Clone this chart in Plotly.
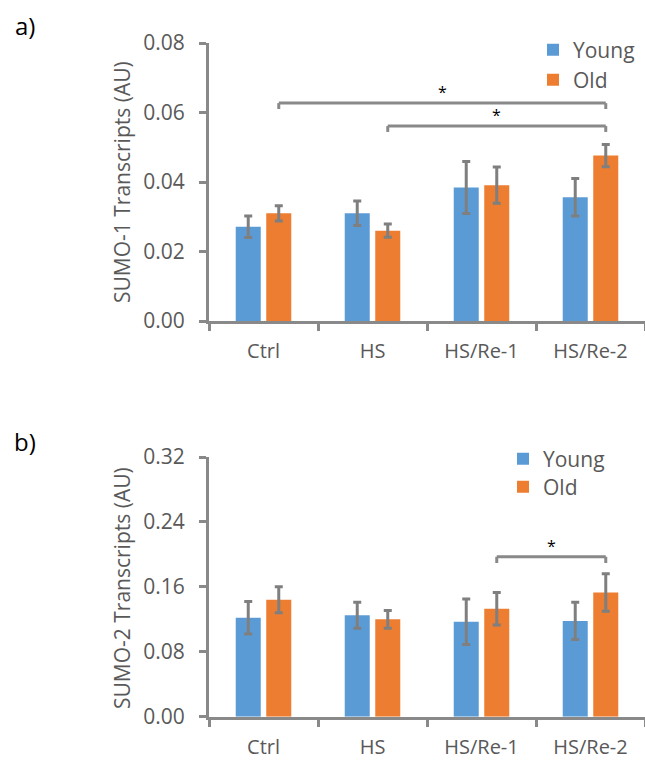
import plotly.graph_objects as go

categories = ["Ctrl", "HS", "HS/Re-1", "HS/Re-2"]

# Panel a) SUMO-1
sumo1_young = [0.0271, 0.0310, 0.0384, 0.0356]
sumo1_young_err = [0.0031, 0.0035, 0.0075, 0.0054]
sumo1_old = [0.0310, 0.0260, 0.0391, 0.0476]
sumo1_old_err = [0.0022, 0.0019, 0.0052, 0.0032]

# Panel b) SUMO-2
sumo2_young = [0.122, 0.125, 0.117, 0.118]
sumo2_young_err = [0.020, 0.016, 0.028, 0.023]
sumo2_old = [0.144, 0.120, 0.133, 0.153]
sumo2_old_err = [0.016, 0.011, 0.020, 0.023]

# significance brackets: (from category, to category, height)
brackets_a = [("Ctrl", "HS/Re-2", 0.0627), ("HS", "HS/Re-2", 0.0561)]
brackets_b = [("HS/Re-1", "HS/Re-2", 0.197)]

BLUE = "#5B9BD5"
ORANGE = "#ED7D31"
GREY = "#898989"
TXT = "#595959"
FONT = "Open Sans"

W, H = 645, 761
ML = 209
BARGAP = 0.44

fig = go.Figure()

def add_bars(y_young, e_young, y_old, e_old, xa, ya, legs):
    for name, vals, errs, col, leg in [("Young", y_young, e_young, BLUE, legs[0]),
                                       ("Old", y_old, e_old, ORANGE, legs[1])]:
        fig.add_trace(go.Bar(
            x=categories, y=vals, name=name, marker_color=col,
            marker_line_width=0,
            error_y=dict(type="data", array=errs, visible=True,
                         color="#7f7f7f", thickness=3, width=4),
            xaxis=xa, yaxis=ya, legend=leg, showlegend=True,
        ))

add_bars(sumo1_young, sumo1_young_err, sumo1_old, sumo1_old_err, "x", "y", ["legend", "legend2"])
add_bars(sumo2_young, sumo2_young_err, sumo2_old, sumo2_old_err, "x2", "y2", ["legend3", "legend4"])

top_dom = [(H - 321) / H, (H - 43) / H]
bot_dom = [(H - 716.7) / H, (H - 457) / H]

xcommon = dict(type="category", showline=True, linecolor=GREY, linewidth=3,
               ticks="outside", tickson="boundaries", ticklen=7, tickwidth=3,
               tickcolor=GREY, showgrid=False, zeroline=False, automargin=False,
               tickfont=dict(family=FONT, size=20, color=TXT),
               ticklabelstandoff=10, range=[-0.5, 3.5])
ycommon = dict(showline=True, linecolor=GREY, linewidth=3, ticks="outside",
               ticklen=7, tickwidth=3, tickcolor=GREY, showgrid=False,
               zeroline=False, automargin=False,
               tickfont=dict(family=FONT, size=21, color=TXT),
               tickformat=".2f", ticklabelstandoff=10)

fig.update_layout(
    width=W, height=H,
    margin=dict(l=ML, r=0, t=0, b=0, autoexpand=False),
    paper_bgcolor="white", plot_bgcolor="white",
    barmode="group", bargap=BARGAP, bargroupgap=0.18,
    xaxis=dict(domain=[0, 1], anchor="y", **xcommon),
    yaxis=dict(domain=top_dom, anchor="x", range=[0, 0.08], dtick=0.02, **ycommon),
    xaxis2=dict(domain=[0, 1], anchor="y2", **xcommon),
    yaxis2=dict(domain=bot_dom, anchor="x2", range=[0, 0.32], dtick=0.08, **ycommon),
)

PW = W - ML
def legend_cfg(xpix, ypix):
    return dict(x=xpix / W, y=1 - ypix / H, xref="container", yref="container",
                xanchor="left", yanchor="middle",
                bgcolor="rgba(0,0,0,0)", borderwidth=0,
                font=dict(family=FONT, size=21, color=TXT), itemwidth=30)

fig.update_layout(
    legend=legend_cfg(533, 50),
    legend2=legend_cfg(533, 80),
    legend3=legend_cfg(503, 459),
    legend4=legend_cfg(503, 487),
)

# brackets
off = (1 - BARGAP) / 4  # offset of Old bar centre from category centre

def add_brackets(brs, xref, yref, drop):
    for c0, c1, yv in brs:
        x0 = categories.index(c0) + off
        x1 = categories.index(c1) + off
        ln = dict(color=GREY, width=3)
        fig.add_shape(type="line", x0=x0, x1=x1, y0=yv, y1=yv, xref=xref, yref=yref, line=ln)
        fig.add_shape(type="line", x0=x0, x1=x0, y0=yv, y1=yv - drop, xref=xref, yref=yref, line=ln)
        fig.add_shape(type="line", x0=x1, x1=x1, y0=yv, y1=yv - drop, xref=xref, yref=yref, line=ln)
        fig.add_annotation(x=(x0 + x1) / 2, y=yv, xref=xref, yref=yref, text="*",
                           showarrow=False, yanchor="bottom", yshift=-2,
                           font=dict(family=FONT, size=16, color="black"))

add_brackets(brackets_a, "x", "y", 0.0017)
add_brackets(brackets_b, "x2", "y2", 0.0075)

# axis titles & panel labels
def ann(text, xpix, ypix, size, color, angle=0):
    fig.add_annotation(x=(xpix - ML) / PW, y=1 - ypix / H, xref="paper", yref="paper",
                       text=text, showarrow=False, textangle=angle,
                       xanchor="center", yanchor="middle",
                       font=dict(family=FONT, size=size, color=color))

ann("SUMO-1 Transcripts (AU)", 122, 182, 21, TXT, -90)
ann("SUMO-2 Transcripts (AU)", 122, 588, 21, TXT, -90)
ann("a)", 25, 26, 24, "black")
ann("b)", 25, 441, 24, "black")

fig.write_html("out.html")
